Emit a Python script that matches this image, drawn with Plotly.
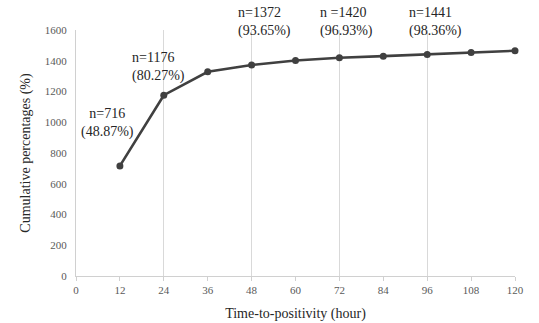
import plotly.graph_objects as go

hours = [12, 24, 36, 48, 60, 72, 84, 96, 108, 120]
cumulative = [716, 1176, 1328, 1372, 1402, 1420, 1430, 1441, 1454, 1465]

x_ticks = [0, 12, 24, 36, 48, 60, 72, 84, 96, 108, 120]
y_ticks = [0, 200, 400, 600, 800, 1000, 1200, 1400, 1600]
grid_x = [24, 48, 72, 96, 120]

label_texts = ["n=716<br>(48.87%)", "n=1176<br>(80.27%)", "n=1372<br>(93.65%)",
               "n =1420<br>(96.93%)", "n=1441<br>(98.36%)"]
label_x = [8.5, 14.8, 43.7, 66.2, 90.5]
label_y = [992, 1359, 1600, 1600, 1600]
label_shift = [0, 0, 8, 8, 8]
label_anchor = ["center", "left", "left", "left", "left"]

SERIF = "Liberation Serif, Times New Roman, serif"

fig = go.Figure()
fig.add_trace(go.Scatter(
    x=hours, y=cumulative, mode="lines+markers",
    line=dict(color="#404040", width=2.6),
    marker=dict(color="#404040", size=7),
    showlegend=False, cliponaxis=False,
))
# invisible trace on grid axis
fig.add_trace(go.Scatter(x=[0, 120], y=[0, 0], xaxis="x2", mode="markers",
                         marker=dict(opacity=0), showlegend=False, hoverinfo="skip"))

for t, xv, yv, ys, anc in zip(label_texts, label_x, label_y, label_shift, label_anchor):
    fig.add_annotation(x=xv, y=yv, xref="x", yref="y", text=t, showarrow=False,
                       xanchor=anc, yanchor="middle", align=anc, yshift=ys,
                       font=dict(family=SERIF, size=14, color="#262626"))

fig.update_layout(
    width=539, height=323,
    margin=dict(l=76, r=24, t=30, b=47),
    paper_bgcolor="white", plot_bgcolor="white",
    font=dict(family=SERIF, color="#595959"),
    xaxis=dict(range=[0, 120], tickvals=x_ticks, showgrid=False, zeroline=False,
               showline=True, linecolor="#d0d0d0", linewidth=1.3, automargin=False,
               ticks="outside", ticklen=4, tickcolor="#d0d0d0",
               tickfont=dict(family=SERIF, size=11, color="#595959"),
               title=dict(text="Time-to-positivity (hour)", standoff=12,
                          font=dict(family=SERIF, size=14, color="#262626"))),
    xaxis2=dict(range=[0, 120], tickvals=grid_x, overlaying="x", showgrid=True,
                gridcolor="#d9d9d9", gridwidth=1.3, showticklabels=False,
                zeroline=False, showline=False, ticks="", automargin=False),
    yaxis=dict(range=[0, 1600], tickvals=y_ticks, showgrid=False, zeroline=False,
               showline=True, linecolor="#d0d0d0", linewidth=1.3, automargin=False,
               ticks="", ticklabelstandoff=6,
               tickfont=dict(family=SERIF, size=11, color="#595959"),
               title=dict(text="Cumulative percentages (%)", standoff=10,
                          font=dict(family=SERIF, size=14, color="#262626"))),
)

fig.write_html("out.html")
